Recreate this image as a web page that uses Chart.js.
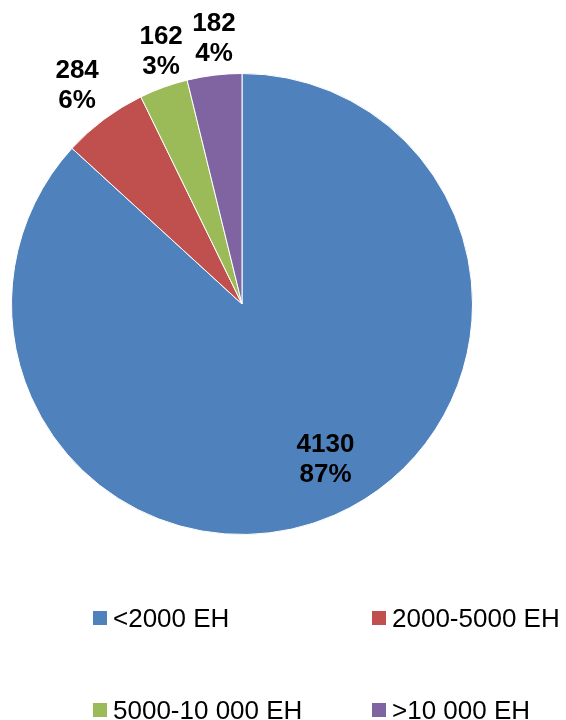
<!DOCTYPE html>
<html>
<head>
<meta charset="utf-8">
<script src="https://cdn.jsdelivr.net/npm/chart.js@4"></script>
<style>
html,body{margin:0;padding:0;background:#fff;}
#wrap{position:relative;width:566px;height:720px;}
</style>
</head>
<body>
<div id="wrap"><canvas id="c" width="566" height="720"></canvas></div>
<script>
const categories = ['<2000 EH', '2000-5000 EH', '5000-10 000 EH', '>10 000 EH'];
const values = [4130, 284, 162, 182];
const colors = ['#4F81BD', '#C0504D', '#9BBB59', '#8064A2'];

const FONT = '"Liberation Sans", Arial, sans-serif';

const labelPlugin = {
  id: 'sliceLabels',
  afterDatasetsDraw(chart, args, opts) {
    const ctx = chart.ctx;
    const meta = chart.getDatasetMeta(0);
    const data = chart.data.datasets[0].data;
    const total = data.reduce((a, b) => a + b, 0);
    ctx.save();
    ctx.font = 'bold 26px ' + FONT;
    ctx.fillStyle = '#000';
    ctx.textAlign = 'center';
    ctx.textBaseline = 'middle';
    meta.data.forEach((arc, i) => {
      const p = arc.getProps(['x', 'y', 'startAngle', 'endAngle', 'outerRadius'], true);
      const mid = (p.startAngle + p.endAngle) / 2;
      const ux = Math.cos(mid), uy = Math.sin(mid);
      const l1 = String(data[i]);
      const l2 = Math.round(data[i] / total * 100) + '%';
      let cx, cy;
      if (opts.inside[i]) {
        const r = p.outerRadius * 0.77;
        cx = p.x + ux * r; cy = p.y + uy * r;
      } else {
        const w = Math.max(ctx.measureText(l1).width, ctx.measureText(l2).width) / 2;
        const h = 24.5;
        const r = p.outerRadius + 9 + w * Math.abs(ux) + h * Math.abs(uy);
        cx = p.x + ux * r; cy = p.y + uy * r;
      }
      const n = opts.nudge[i];
      cx += n[0]; cy += n[1];
      ctx.fillText(l1, cx, cy - 15);
      ctx.fillText(l2, cx, cy + 15);
    });
    ctx.restore();
  }
};

const legendPlugin = {
  id: 'customLegend',
  afterDraw(chart, args, opts) {
    const ctx = chart.ctx;
    ctx.save();
    ctx.font = '26px ' + FONT;
    ctx.textBaseline = 'alphabetic';
    ctx.textAlign = 'left';
    chart.data.labels.forEach((lab, i) => {
      const col = i % 2, row = Math.floor(i / 2);
      const x = opts.colX[col], y = opts.rowY[row];
      ctx.fillStyle = chart.data.datasets[0].backgroundColor[i];
      ctx.fillRect(x, y, 14, 14);
      ctx.fillStyle = '#000';
      ctx.fillText(lab, x + 20, y + 16);
    });
    ctx.restore();
  }
};

new Chart(document.getElementById('c'), {
  type: 'pie',
  data: {
    labels: categories,
    datasets: [{
      data: values,
      backgroundColor: colors,
      borderColor: '#ffffff',
      borderWidth: 1
    }]
  },
  options: {
    responsive: false,
    animation: false,
    layout: { padding: { left: 11, right: 93, top: 73, bottom: 185 } },
    plugins: {
      legend: { display: false },
      tooltip: { enabled: false },
      sliceLabels: {
        inside: [true, false, false, false],
        nudge: [[12, -7], [-2, 0], [11, 2], [4, -1]]
      },
      customLegend: { colX: [93, 372], rowY: [611, 703] }
    }
  },
  plugins: [labelPlugin, legendPlugin]
});
</script>
</body>
</html>
